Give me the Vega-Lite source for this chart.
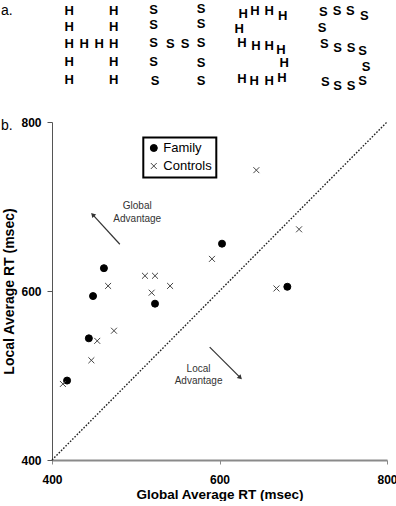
{
  "$schema": "https://vega.github.io/schema/vega-lite/v6.json",
  "padding": 0,
  "spacing": 0,
  "background": "white",
  "config": {
    "view": {"stroke": null},
    "font": "Liberation Sans",
    "legend": {"strokeWidth": 2}
  },
  "resolve": {"legend": {"shape": "independent", "fill": "independent", "stroke": "independent"}},
  "datasets": {
    "stimuli": [
      {"gx": 68.3, "gy": 10.7, "letter": "H"}, {"gx": 112.7, "gy": 10.7, "letter": "H"},
      {"gx": 68.3, "gy": 27.3, "letter": "H"}, {"gx": 112.7, "gy": 27.3, "letter": "H"},
      {"gx": 68.3, "gy": 44, "letter": "H"}, {"gx": 83.3, "gy": 44, "letter": "H"}, {"gx": 98.3, "gy": 44, "letter": "H"}, {"gx": 112.7, "gy": 44, "letter": "H"},
      {"gx": 68.3, "gy": 62.3, "letter": "H"}, {"gx": 112.7, "gy": 62.3, "letter": "H"},
      {"gx": 68.3, "gy": 80, "letter": "H"}, {"gx": 112.7, "gy": 80, "letter": "H"},
      {"gx": 152.7, "gy": 10, "letter": "S"}, {"gx": 200, "gy": 9, "letter": "S"},
      {"gx": 152.7, "gy": 25, "letter": "S"}, {"gx": 200, "gy": 24.3, "letter": "S"},
      {"gx": 152.7, "gy": 43.3, "letter": "S"}, {"gx": 169.3, "gy": 44.3, "letter": "S"}, {"gx": 184, "gy": 44.3, "letter": "S"}, {"gx": 200, "gy": 43.3, "letter": "S"},
      {"gx": 152.7, "gy": 61.7, "letter": "S"}, {"gx": 200, "gy": 63.3, "letter": "S"},
      {"gx": 154, "gy": 80.7, "letter": "S"}, {"gx": 200, "gy": 80.7, "letter": "S"},
      {"gx": 242.3, "gy": 14, "letter": "H"}, {"gx": 254, "gy": 11, "letter": "H"}, {"gx": 268.3, "gy": 11, "letter": "H"}, {"gx": 281.7, "gy": 16, "letter": "H"},
      {"gx": 238.3, "gy": 29.3, "letter": "H"},
      {"gx": 241, "gy": 42.7, "letter": "H"}, {"gx": 255, "gy": 45.7, "letter": "H"}, {"gx": 268.3, "gy": 45.7, "letter": "H"}, {"gx": 280, "gy": 50, "letter": "H"},
      {"gx": 283.3, "gy": 63.3, "letter": "H"},
      {"gx": 241, "gy": 79, "letter": "H"}, {"gx": 253.3, "gy": 80.7, "letter": "H"}, {"gx": 268.3, "gy": 80.7, "letter": "H"}, {"gx": 281, "gy": 78.3, "letter": "H"},
      {"gx": 322.3, "gy": 12.3, "letter": "S"}, {"gx": 336, "gy": 10.7, "letter": "S"}, {"gx": 349.3, "gy": 10.7, "letter": "S"}, {"gx": 363.3, "gy": 16, "letter": "S"},
      {"gx": 321, "gy": 28.3, "letter": "S"},
      {"gx": 323.3, "gy": 44.3, "letter": "S"}, {"gx": 336.7, "gy": 48.3, "letter": "S"}, {"gx": 350, "gy": 48.3, "letter": "S"}, {"gx": 361.7, "gy": 50.7, "letter": "S"},
      {"gx": 365, "gy": 66.7, "letter": "S"},
      {"gx": 324.3, "gy": 81.7, "letter": "S"}, {"gx": 336.7, "gy": 86, "letter": "S"}, {"gx": 350, "gy": 86, "letter": "S"}, {"gx": 361.7, "gy": 80.7, "letter": "S"}
    ],
    "panelA": [{"gx": 0, "gy": 15, "text": "a."}],
    "points": [
      {"global": 603, "local": 656, "group": "Family"},
      {"global": 462, "local": 627, "group": "Family"},
      {"global": 681, "local": 605, "group": "Family"},
      {"global": 449, "local": 594, "group": "Family"},
      {"global": 523, "local": 585, "group": "Family"},
      {"global": 444, "local": 544, "group": "Family"},
      {"global": 418, "local": 494, "group": "Family"},
      {"global": 644, "local": 743, "group": "Controls"},
      {"global": 695, "local": 673, "group": "Controls"},
      {"global": 591, "local": 638, "group": "Controls"},
      {"global": 511, "local": 618, "group": "Controls"},
      {"global": 523, "local": 618, "group": "Controls"},
      {"global": 467, "local": 606, "group": "Controls"},
      {"global": 541, "local": 606, "group": "Controls"},
      {"global": 519, "local": 598, "group": "Controls"},
      {"global": 668, "local": 603, "group": "Controls"},
      {"global": 454, "local": 541, "group": "Controls"},
      {"global": 474, "local": 553, "group": "Controls"},
      {"global": 447, "local": 518, "group": "Controls"},
      {"global": 413, "local": 490, "group": "Controls"}
    ],
    "diagonal": [{"global": 400, "local": 400}, {"global": 800, "local": 800}],
    "arrows": [
      {"global": 481, "local": 655.3, "global2": 448.6, "local2": 690.4, "which": "Global"},
      {"global": 588.3, "local": 533.6, "global2": 624.8, "local2": 497.4, "which": "Local"}
    ],
    "notes": [
      {"global": 501.8, "local": 700.2, "text": "Global"},
      {"global": 501.8, "local": 685.3, "text": "Advantage"},
      {"global": 575, "local": 508, "text": "Local"},
      {"global": 575, "local": 493, "text": "Advantage"}
    ],
    "panelB": [{"global": 339.1, "local": 790.1, "text": "b."}]
  },
  "vconcat": [
    {
      "width": 335,
      "height": 116,
      "encoding": {
        "x": {"field": "gx", "type": "quantitative", "scale": {"domain": [51, 386], "nice": false, "zero": false}, "axis": null},
        "y": {"field": "gy", "type": "quantitative", "scale": {"domain": [0, 116], "nice": false, "zero": false, "reverse": true}, "axis": null}
      },
      "layer": [
        {
          "data": {"name": "stimuli"},
          "mark": {"type": "text", "font": "Liberation Sans", "fontWeight": "bold", "fontSize": 13, "align": "center", "baseline": "middle", "color": "black"},
          "encoding": {"text": {"field": "letter"}}
        },
        {
          "data": {"name": "panelA"},
          "mark": {"type": "text", "font": "Liberation Sans", "fontSize": 14, "align": "left", "baseline": "alphabetic", "color": "black"},
          "encoding": {"text": {"field": "text"}}
        }
      ]
    },
    {
      "width": 335,
      "height": 338,
      "encoding": {
        "x": {
          "field": "global", "type": "quantitative",
          "scale": {"domain": [400, 800], "nice": false, "zero": false},
          "axis": {
            "title": "Global Average RT (msec)", "values": [400, 600, 800], "grid": false,
            "domainColor": "#8a8a8a", "domainWidth": 2, "tickColor": "#8a8a8a", "tickSize": 4, "tickWidth": 1,
            "labelPadding": 10, "labelFont": "Liberation Sans", "labelFontWeight": "bold", "labelFontSize": 12, "labelColor": "black",
            "labelFlush": false, "labelOverlap": false,
            "titleFont": "Liberation Sans", "titleFontWeight": "bold", "titleFontSize": 13.5, "titleColor": "black", "titlePadding": 2
          }
        },
        "y": {
          "field": "local", "type": "quantitative",
          "scale": {"domain": [400, 800], "nice": false, "zero": false},
          "axis": {
            "title": "Local Average RT (msec)", "values": [400, 600, 800], "grid": false,
            "domainColor": "#555555", "domainWidth": 1, "tickColor": "#555555", "tickSize": 5, "tickWidth": 1,
            "labelPadding": 6, "labelFont": "Liberation Sans", "labelFontWeight": "bold", "labelFontSize": 12, "labelColor": "black",
            "labelFlush": false, "labelOverlap": false,
            "titleFont": "Liberation Sans", "titleFontWeight": "bold", "titleFontSize": 14, "titleColor": "black", "titlePadding": 4
          }
        }
      },
      "layer": [
        {
          "data": {"name": "diagonal"},
          "mark": {"type": "line", "color": "#222222", "strokeWidth": 1.4, "strokeDash": [1.6, 1.6]},
          "encoding": {}
        },
        {
          "data": {"name": "arrows"},
          "mark": {"type": "rule", "color": "#333333", "strokeWidth": 1.2},
          "encoding": {
            "x2": {"field": "global2"},
            "y2": {"field": "local2"}
          }
        },
        {
          "data": {"name": "arrows"},
          "transform": [{"filter": "datum.which === 'Global'"}],
          "mark": {"type": "point", "shape": "triangle-up", "filled": true, "color": "#333333", "size": 28, "angle": 317, "opacity": 1},
          "encoding": {
            "x": {"field": "global2", "type": "quantitative"},
            "y": {"field": "local2", "type": "quantitative"}
          }
        },
        {
          "data": {"name": "arrows"},
          "transform": [{"filter": "datum.which === 'Local'"}],
          "mark": {"type": "point", "shape": "triangle-up", "filled": true, "color": "#333333", "size": 28, "angle": 135, "opacity": 1},
          "encoding": {
            "x": {"field": "global2", "type": "quantitative"},
            "y": {"field": "local2", "type": "quantitative"}
          }
        },
        {
          "data": {"name": "notes"},
          "mark": {"type": "text", "font": "Liberation Sans", "fontSize": 10, "color": "#333333", "align": "center", "baseline": "middle"},
          "encoding": {"text": {"field": "text"}}
        },
        {
          "data": {"name": "panelB"},
          "mark": {"type": "text", "font": "Liberation Sans", "fontSize": 14, "color": "black", "align": "left", "baseline": "alphabetic"},
          "encoding": {"text": {"field": "text"}}
        },
        {
          "data": {"name": "points"},
          "mark": {"type": "point", "size": 49, "strokeWidth": 1, "opacity": 1},
          "encoding": {
            "shape": {
              "field": "group", "type": "nominal",
              "scale": {"domain": ["Family", "Controls"], "range": ["circle", "M-0.85,-0.85L0.85,0.85M-0.85,0.85L0.85,-0.85"]},
              "legend": {"title": null, "orient": "none", "legendX": 91.3, "legendY": 15.5, "strokeColor": "black", "fillColor": "white", "padding": 4, "rowPadding": 4, "labelOffset": 3, "symbolSize": 49, "symbolStrokeWidth": 1, "labelFont": "Liberation Sans", "labelFontSize": 13, "labelColor": "black"}
            },
            "fill": {
              "field": "group", "type": "nominal",
              "scale": {"domain": ["Family", "Controls"], "range": ["black", "transparent"]},
              "legend": {"title": null, "orient": "none", "legendX": 91.3, "legendY": 15.5, "strokeColor": "black", "fillColor": "white", "padding": 4, "rowPadding": 4, "labelOffset": 3, "symbolSize": 49, "symbolStrokeWidth": 1, "labelFont": "Liberation Sans", "labelFontSize": 13, "labelColor": "black"}
            },
            "stroke": {
              "field": "group", "type": "nominal",
              "scale": {"domain": ["Family", "Controls"], "range": ["black", "#444444"]},
              "legend": {"title": null, "orient": "none", "legendX": 91.3, "legendY": 15.5, "strokeColor": "black", "fillColor": "white", "padding": 4, "rowPadding": 4, "labelOffset": 3, "symbolSize": 49, "symbolStrokeWidth": 1, "labelFont": "Liberation Sans", "labelFontSize": 13, "labelColor": "black"}
            }
          }
        }
      ]
    }
  ]
}
